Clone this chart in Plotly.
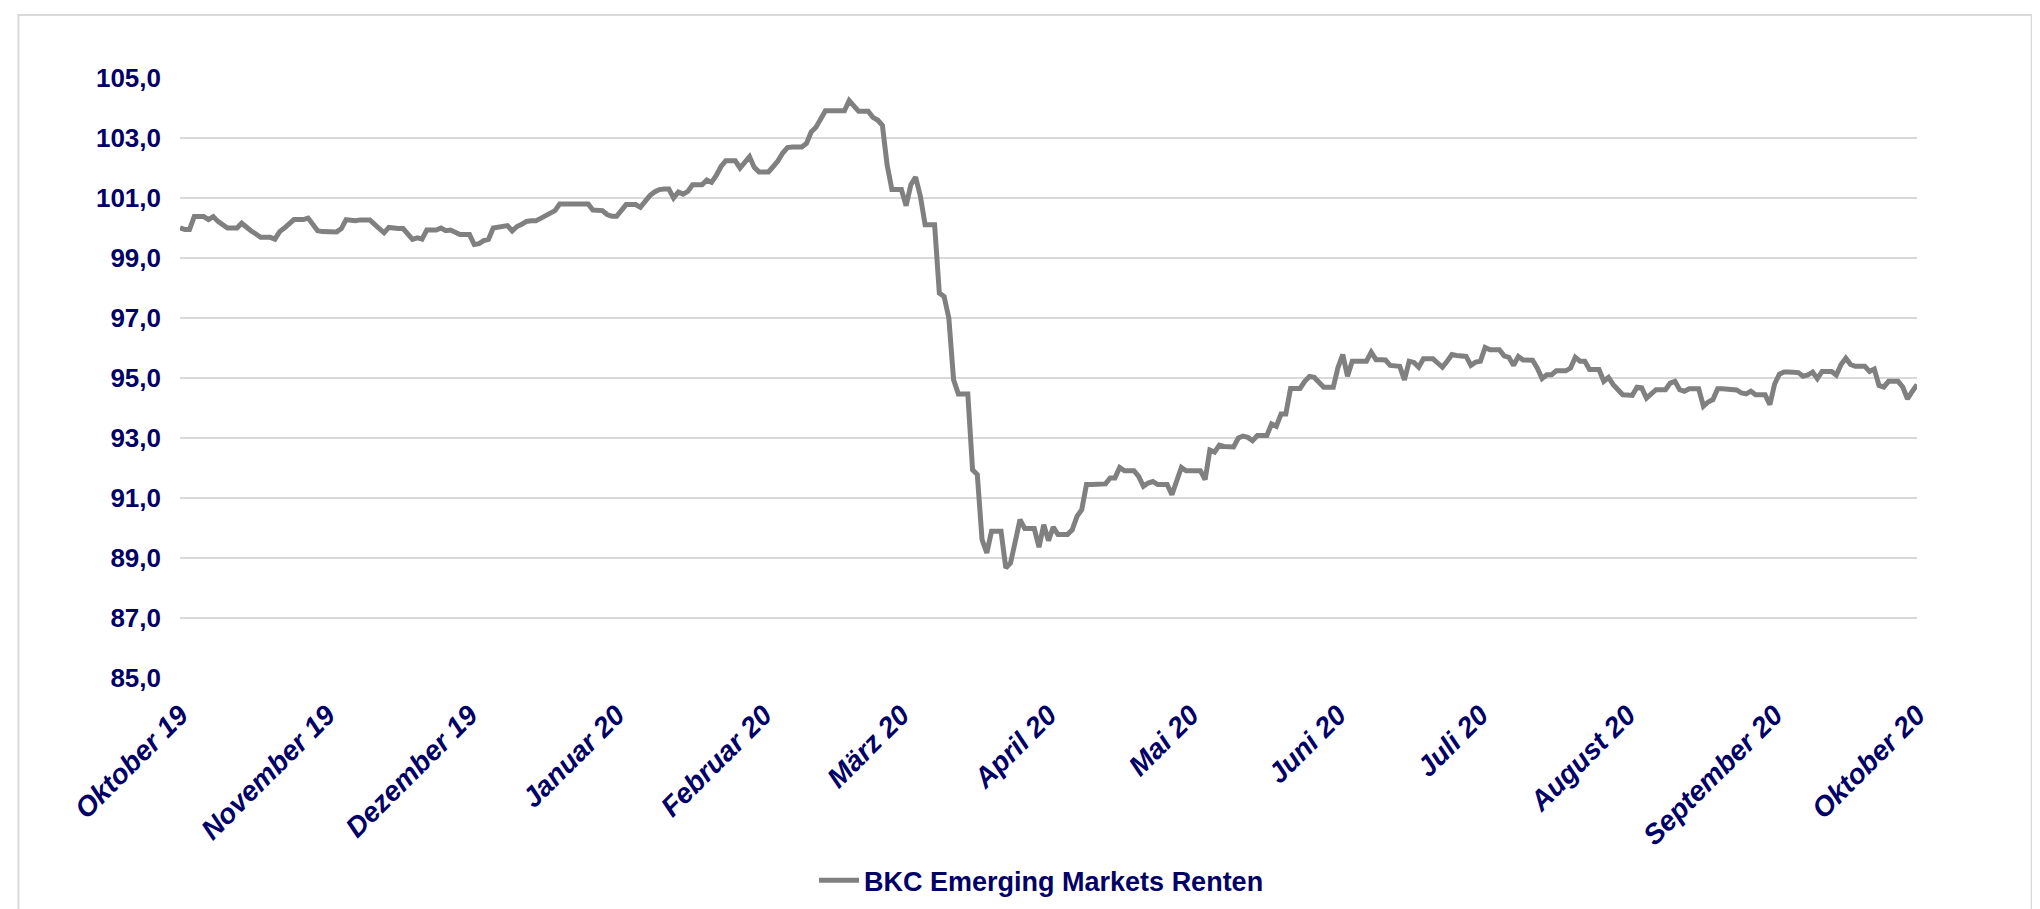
import pandas as pd
import plotly.graph_objects as go

# Tageswerte (Wochenende = Freitagswert)
okt_19 = [100.0, 99.95, 99.95, 100.38, 100.38, 100.38, 100.28, 100.38, 100.22, 100.1, 100.0, 100.0, 100.0,
          100.16, 100.02, 99.9, 99.8, 99.69, 99.69, 99.69, 99.63, 99.88, 100.0, 100.12, 100.28, 100.28, 100.28,
          100.33, 100.1, 99.91, 99.88]
nov_19 = [99.87, 99.87, 99.87, 99.98, 100.28, 100.26, 100.24, 100.27, 100.27, 100.27, 100.12, 99.98, 99.84,
          100.02, 99.98, 99.98, 99.98, 99.8, 99.62, 99.67, 99.63, 99.93, 99.93, 99.93, 100.0, 99.91, 99.93,
          99.85, 99.78, 99.78]
dez_19 = [99.78, 99.45, 99.48, 99.58, 99.62, 100.0, 100.02, 100.02, 100.08, 99.9, 100.05, 100.12, 100.22,
          100.24, 100.24, 100.32, 100.42, 100.5, 100.58, 100.8, 100.8, 100.8, 100.8, 100.8, 100.8, 100.8,
          100.6, 100.58, 100.58, 100.45, 100.39]
jan_20 = [100.39, 100.56, 100.78, 100.78, 100.78, 100.69, 100.88, 101.08, 101.2, 101.28, 101.3, 101.3,
          101.0, 101.2, 101.13, 101.22, 101.44, 101.44, 101.44, 101.6, 101.52, 101.75, 102.05, 102.24,
          102.24, 102.24, 102.0, 102.2, 102.38, 102.02, 101.87]
feb_20 = [101.87, 101.87, 102.05, 102.24, 102.5, 102.68, 102.7, 102.7, 102.7, 102.82, 103.2, 103.36,
          103.65, 103.91, 103.91, 103.91, 103.94, 103.91, 104.25, 104.05, 103.89, 103.89, 103.89, 103.69,
          103.6, 103.42, 102.1, 101.28, 101.28]
mrz_20 = [101.28, 100.74, 101.44, 101.7, 101.06, 100.11, 100.11, 100.11, 97.83, 97.72, 97.0, 94.94,
          94.47, 94.47, 94.47, 91.94, 91.78, 89.61, 89.17, 89.89, 89.89, 89.89, 88.67, 88.83, 89.55, 90.28,
          89.98, 89.98, 89.98, 89.36, 90.11]
apr_20 = [89.58, 90.03, 89.78, 89.78, 89.78, 89.94, 90.39, 90.61, 91.45, 91.45, 91.45, 91.45, 91.47,
          91.67, 91.67, 92.02, 91.91, 91.91, 91.91, 91.72, 91.39, 91.5, 91.55, 91.45, 91.45, 91.45, 91.11,
          91.6, 92.02, 91.91]
mai_20 = [91.91, 91.91, 91.91, 91.61, 92.6, 92.53, 92.76, 92.72, 92.7, 92.7, 93.0, 93.06, 93.02, 92.91,
          93.08, 93.08, 93.08, 93.47, 93.39, 93.8, 93.8, 94.65, 94.65, 94.65, 94.89, 95.05, 95.02, 94.85,
          94.69, 94.69, 94.69]
jun_20 = [95.35, 95.78, 95.06, 95.56, 95.56, 95.56, 95.56, 95.86, 95.61, 95.61, 95.6, 95.42, 95.4, 95.39,
          94.94, 95.56, 95.52, 95.36, 95.64, 95.64, 95.64, 95.5, 95.36, 95.56, 95.78, 95.75, 95.72, 95.72,
          95.42, 95.53]
jul_20 = [95.56, 96.02, 95.94, 95.94, 95.94, 95.74, 95.69, 95.42, 95.72, 95.6, 95.59, 95.59, 95.33, 94.98,
          95.11, 95.11, 95.24, 95.24, 95.24, 95.33, 95.69, 95.56, 95.56, 95.28, 95.28, 95.28, 94.89, 95.02,
          94.78, 94.6, 94.44]
aug_20 = [94.43, 94.42, 94.69, 94.67, 94.33, 94.5, 94.61, 94.61, 94.61, 94.83, 94.89, 94.61, 94.56, 94.64,
          94.64, 94.64, 94.06, 94.2, 94.28, 94.64, 94.64, 94.64, 94.64, 94.6, 94.5, 94.47, 94.56, 94.44,
          94.44, 94.44, 94.11]
sep_20 = [94.8, 95.13, 95.2, 95.2, 95.19, 95.18, 95.06, 95.1, 95.2, 94.98, 95.22, 95.22, 95.22, 95.1,
          95.45, 95.66, 95.45, 95.39, 95.39, 95.39, 95.22, 95.3, 94.75, 94.7, 94.89, 94.89, 94.89, 94.7,
          94.3, 94.55]
okt_20 = [94.78]

monat_ticks = ["2019-10-01", "2019-11-01", "2019-12-01", "2020-01-01", "2020-02-01", "2020-03-01",
               "2020-04-01", "2020-05-01", "2020-06-01", "2020-07-01", "2020-08-01", "2020-09-01",
               "2020-10-01"]
monat_namen = ["Oktober 19", "November 19", "Dezember 19", "Januar 20", "Februar 20", "März 20",
               "April 20", "Mai 20", "Juni 20", "Juli 20", "August 20", "September 20", "Oktober 20"]

werte = (okt_19 + nov_19 + dez_19 + jan_20 + feb_20 + mrz_20 + apr_20 + mai_20 + jun_20
         + jul_20 + aug_20 + sep_20 + okt_20)
datum = pd.date_range("2019-10-01", periods=len(werte), freq="D")

navy = "#000066"
schrift = "Liberation Sans, Arial, sans-serif"

fig = go.Figure()
fig.add_trace(go.Scatter(
    x=datum, y=werte, mode="lines", name="BKC Emerging Markets Renten",
    line=dict(color="#808080", width=5),
))

fig.update_layout(
    width=2040, height=909,
    margin=dict(l=172, r=131, t=70, b=239),
    paper_bgcolor="white", plot_bgcolor="white",
    separators=",.",
    font=dict(family=schrift, color=navy),
    showlegend=True,
    legend=dict(
        orientation="h", x=0.496, xanchor="center", y=-0.338, yanchor="middle",
        font=dict(size=27, color=navy, weight="bold"),
        itemwidth=40,
    ),
    shapes=[dict(
        type="rect", xref="paper", yref="paper",
        x0=-0.093, x1=1.066, y0=-0.5, y1=1.105,
        line=dict(color="#d9d9d9", width=2), layer="below",
    )],
)

fig.update_yaxes(
    range=[85, 105], dtick=2, tick0=85, tickformat=".1f",
    showgrid=True, gridcolor="#d9d9d9", gridwidth=2,
    zeroline=False, showline=False, ticks="",
    tickfont=dict(size=26, color=navy, weight="bold"),
    ticklabelstandoff=18,
)
fig.update_xaxes(
    type="date", range=["2019-10-01", "2020-10-01"],
    tickmode="array", tickvals=monat_ticks, ticktext=monat_namen,
    tickangle=-45, showgrid=False, zeroline=False, showline=False, ticks="",
    tickfont=dict(size=28, color=navy, weight="bold", style="italic"),
    ticklabelstandoff=14,
)

fig.write_html("out.html")
